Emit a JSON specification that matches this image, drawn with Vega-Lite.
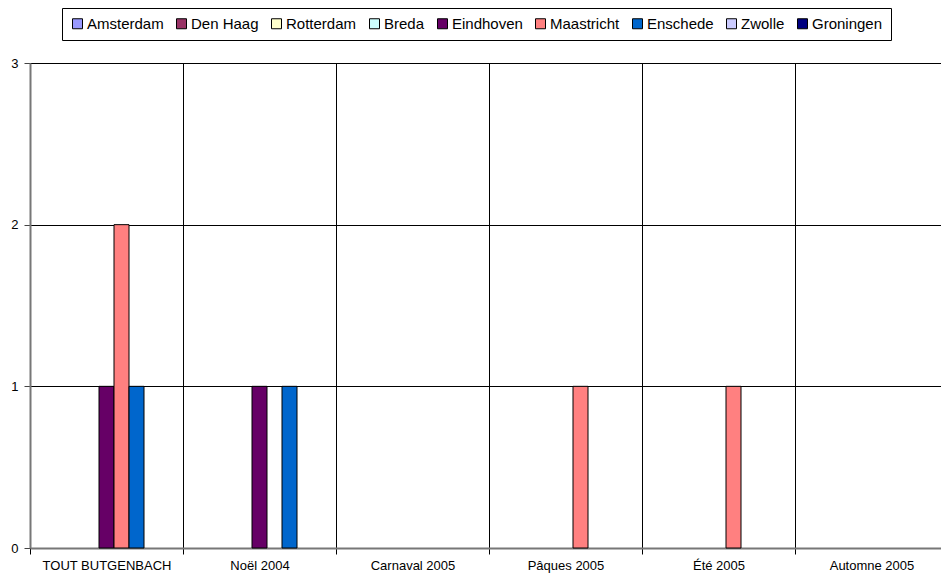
{
  "$schema": "https://vega.github.io/schema/vega-lite/v6.json",
  "autosize": "none",
  "padding": {"left": 30, "top": 63, "right": 0, "bottom": 25},
  "width": 918,
  "height": 485,
  "background": "white",
  "view": {"stroke": null},
  "config": {
    "font": "Liberation Sans",
    "axis": {"labelFont": "Liberation Sans", "labelColor": "black"},
    "legend": {"labelFont": "Liberation Sans"}
  },
  "data": {
    "values": [
      {"periode": "TOUT BUTGENBACH", "ville": "Eindhoven", "n": 1},
      {"periode": "TOUT BUTGENBACH", "ville": "Maastricht", "n": 2},
      {"periode": "TOUT BUTGENBACH", "ville": "Enschede", "n": 1},
      {"periode": "Noël 2004", "ville": "Eindhoven", "n": 1},
      {"periode": "Noël 2004", "ville": "Enschede", "n": 1},
      {"periode": "Pâques 2005", "ville": "Maastricht", "n": 1},
      {"periode": "Été 2005", "ville": "Maastricht", "n": 1}
    ]
  },
  "mark": {"type": "bar", "stroke": "black", "strokeWidth": 1},
  "encoding": {
    "x": {
      "field": "periode",
      "type": "nominal",
      "title": null,
      "scale": {
        "domain": ["TOUT BUTGENBACH", "Noël 2004", "Carnaval 2005", "Pâques 2005", "Été 2005", "Automne 2005"],
        "paddingInner": 0,
        "paddingOuter": 0
      },
      "axis": {
        "grid": true,
        "gridColor": "black",
        "gridOpacity": 1,
        "gridWidth": 1,
        "domainColor": "#777777",
        "domainWidth": 2,
        "tickColor": "black",
        "tickSize": 6,
        "tickBand": "extent",
        "labelAngle": 0,
        "labelFontSize": 13,
        "labelPadding": 5,
        "labelAlign": "center"
      }
    },
    "xOffset": {
      "field": "ville",
      "type": "nominal",
      "scale": {
        "domain": ["Amsterdam", "Den Haag", "Rotterdam", "Breda", "Eindhoven", "Maastricht", "Enschede", "Zwolle", "Groningen"],
        "paddingInner": 0,
        "paddingOuter": 0.6
      }
    },
    "y": {
      "field": "n",
      "type": "quantitative",
      "title": null,
      "scale": {"domain": [0, 3], "nice": false},
      "axis": {
        "values": [0, 1, 2, 3],
        "format": "d",
        "grid": true,
        "gridColor": "black",
        "gridOpacity": 1,
        "gridWidth": 1,
        "domainColor": "#777777",
        "domainWidth": 2,
        "tickColor": "#444444",
        "tickSize": 6,
        "labelFontSize": 13,
        "labelPadding": 6
      }
    },
    "color": {
      "field": "ville",
      "type": "nominal",
      "title": null,
      "scale": {
        "domain": ["Amsterdam", "Den Haag", "Rotterdam", "Breda", "Eindhoven", "Maastricht", "Enschede", "Zwolle", "Groningen"],
        "range": ["#9999FF", "#993366", "#FFFFCC", "#CCFFFF", "#660066", "#FF8080", "#0066CC", "#CCCCFF", "#000080"]
      },
      "legend": {
        "orient": "none",
        "legendX": 32,
        "legendY": -55,
        "direction": "horizontal",
        "columns": 9,
        "symbolType": "square",
        "symbolSize": 100,
        "symbolStrokeColor": "black",
        "symbolStrokeWidth": 1,
        "labelFontSize": 15,
        "labelColor": "black",
        "labelOffset": 2,
        "columnPadding": 10,
        "padding": 8,
        "strokeColor": "black",
        "fillColor": "white",
        "labelLimit": 300
      }
    }
  }
}
